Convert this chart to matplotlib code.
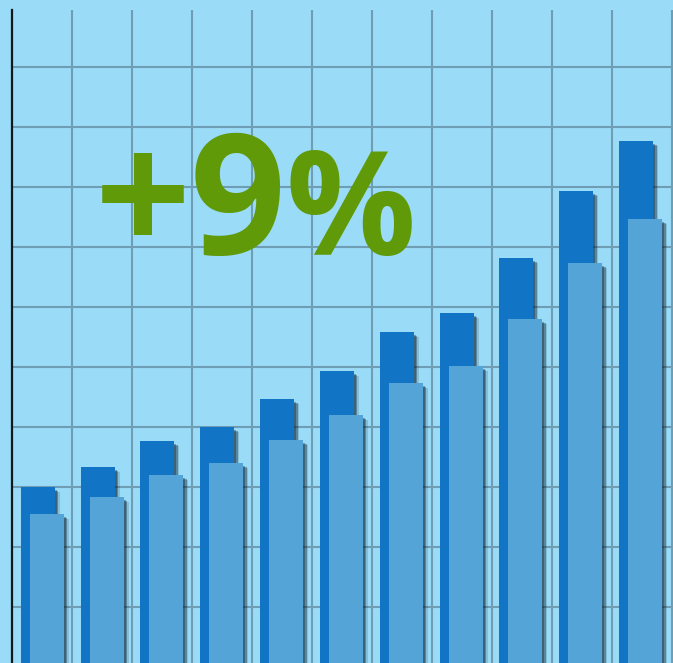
import numpy as np
import matplotlib.pyplot as plt
import matplotlib.patheffects as pe
from matplotlib import font_manager as fm

# bar heights, in grid units (one grid cell = 1)
back_bars = [3.00, 3.33, 3.77, 4.00, 4.46, 4.94, 5.58, 5.90, 6.81, 7.94, 8.77]
front_bars = [2.55, 2.83, 3.20, 3.40, 3.78, 4.20, 4.74, 5.02, 5.80, 6.74, 7.46]
label_num = "+9"
label_pct = "%"

bg = "#9adbf7"
grid_col = "#6f9db3"
dark_blue = "#1174c4"
light_blue = "#55a4d7"
green = "#609a08"

W, H = 673, 663
fig = plt.figure(figsize=(W / 100, H / 100), dpi=100)
fig.patch.set_facecolor(bg)
ax = fig.add_axes([12 / W, 0, 661 / W, 653 / H])
ax.set_facecolor(bg)

px = 1 / 60.0  # one pixel in data units
ax.set_xlim(0, 661 * px)
ax.set_ylim(4 * px, 657 * px)

# grid
for k in range(1, 12):
    ax.axvline(k, color=grid_col, lw=1.5, zorder=0)
for k in range(1, 11):
    ax.axhline(k, color=grid_col, lw=1.5, zorder=0)

x = np.arange(len(back_bars)) * 0.997 + 0.43
w = 34 * px
off = 9 * px

def shadow(xs, hs):
    for dx, dy, a in [(2, 3, 0.35), (3.5, 4, 0.35), (5, 5, 0.15)]:
        ax.bar(xs + dx * px, np.array(hs) - dy * px, width=w, color="#0a2030",
               alpha=a, lw=0, zorder=1)

shadow(x, back_bars)
ax.bar(x, back_bars, width=w, color=dark_blue, lw=0, zorder=2)
shadow(x + off, front_bars)
ax.bar(x + off, front_bars, width=w, color=light_blue, lw=0, zorder=3)

for s in ["top", "right", "bottom"]:
    ax.spines[s].set_visible(False)
ax.spines["left"].set_color("#10181c")
ax.spines["left"].set_linewidth(1.6)
ax.spines["left"].set_zorder(5)
ax.set_xticks([])
ax.set_yticks([])

# look for a real bold sans file, else thicken regular Noto Sans
bold = None
for name in ["Open Sans", "Noto Sans", "Lato"]:
    hits = [f for f in fm.fontManager.ttflist
            if f.name == name and f.weight in (700, "bold")
            and "italic" not in f.style]
    if hits:
        bold = hits[0].fname
        break

if bold:
    fp_num = fm.FontProperties(fname=bold, size=121)
    fp_pct = fm.FontProperties(fname=bold, size=104)
    effects = []
else:
    fp_num = fm.FontProperties(family="Noto Sans", size=114)
    fp_pct = fm.FontProperties(family="Noto Sans", size=100)
    effects = [pe.withStroke(linewidth=4.5, foreground=green, joinstyle="miter")]

fig.text(95 / W, 1 - 254 / H, label_num, fontproperties=fp_num, color=green,
         ha="left", va="baseline", path_effects=effects)
fig.text(285 / W, 1 - 255 / H, label_pct, fontproperties=fp_pct, color=green,
         ha="left", va="baseline", path_effects=effects)

fig.savefig("out.png", dpi=100, facecolor=bg)
